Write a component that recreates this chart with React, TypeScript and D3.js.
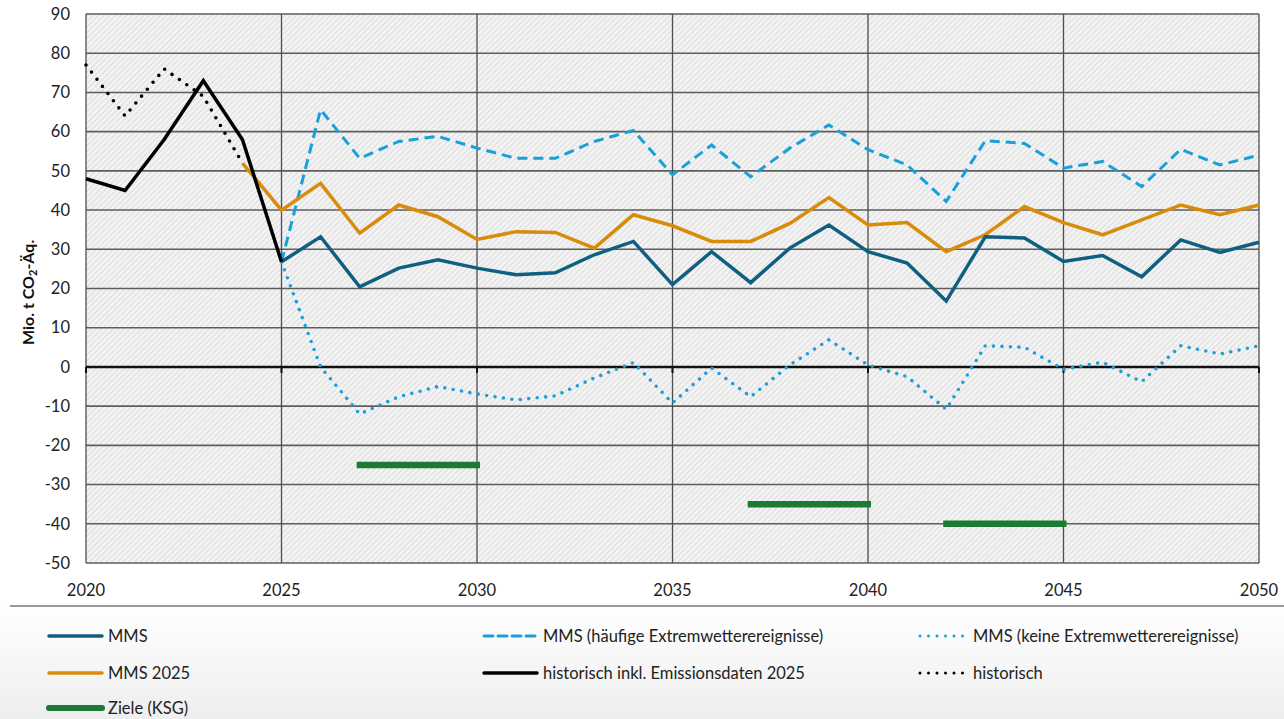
import React, { useEffect, useRef } from 'react';
import * as d3 from 'd3';

// Werte (Mio. t CO2-Äq.)
const histYears = [2020, 2021, 2022, 2023, 2024];
const histValues = [77, 64, 76, 69, 52];

const histInklYears = [2020, 2021, 2022, 2023, 2024, 2025];
const histInklValues = [48, 45, 58, 73, 58, 26.8];

const mms2025Years = d3.range(2024, 2051);
const mms2025Values = [52, 40, 46.8, 34.1, 41.3, 38.3, 32.5, 34.5, 34.3, 30.3, 38.8, 36, 32, 32, 36.6, 43.2, 36.2, 36.8, 29.4, 33.7, 40.9, 36.8, 33.7, 37.5, 41.3, 38.8, 41.3];

const mmsYears = d3.range(2025, 2051);
const mmsValues = [26.8, 33.2, 20.4, 25.2, 27.3, 25.2, 23.5, 24, 28.6, 32, 21, 29.4, 21.5, 30.3, 36.2, 29.4, 26.5, 16.8, 33.2, 32.9, 26.9, 28.4, 23, 32.4, 29.2, 31.8];
const mmsHighValues = [26.8, 65.6, 53.2, 57.5, 58.8, 55.8, 53.2, 53.2, 57.5, 60.3, 49, 56.6, 48.5, 55.8, 61.7, 55.4, 51.5, 42.2, 57.7, 57, 50.7, 52.4, 46, 55.5, 51.5, 54];
const mmsNoneValues = [26.8, 0, -12, -7.6, -5, -6.9, -8.4, -7.4, -2.8, 1.1, -9.2, -0.3, -7.6, 0.5, 6.9, 0.5, -2.5, -10.8, 5.4, 5, -0.6, 1.2, -3.8, 5.4, 3.3, 5.4];

const targetStart = [2027, 2037, 2042];
const targetEnd = [2030, 2040, 2045];
const targetValues = [-25, -35, -40];

const yTicks = d3.range(-50, 91, 10);
const xTicks = [2020, 2025, 2030, 2035, 2040, 2045, 2050];

const colors = {
  mms: '#0f5f80',
  mms2025: '#d98b0c',
  light: '#1a9fd9',
  hist: '#000000',
  target: '#1b7a33',
};

const WIDTH = 1284;
const HEIGHT = 719;
const FONT = 'Lato, "Open Sans", sans-serif';

const App: React.FC = () => {
  const svgRef = useRef<SVGSVGElement>(null);

  useEffect(() => {
    if (!svgRef.current) return;
    const margin = { top: 14, right: 25, bottom: HEIGHT - 563, left: 86 };

    d3.select(svgRef.current).selectAll('*').remove();
    const root = d3.select(svgRef.current)
      .attr('width', WIDTH)
      .attr('height', HEIGHT);

    const defs = root.append('defs');
    const pat = defs.append('pattern')
      .attr('id', 'hatch')
      .attr('patternUnits', 'userSpaceOnUse')
      .attr('width', 4)
      .attr('height', 4)
      .attr('patternTransform', 'rotate(45)');
    pat.append('rect').attr('width', 4).attr('height', 4).attr('fill', '#f3f3f3');
    pat.append('line')
      .attr('x1', 0).attr('y1', 0).attr('x2', 0).attr('y2', 4)
      .attr('stroke', '#d2d2d2').attr('stroke-width', 1.4);

    const grad = defs.append('linearGradient')
      .attr('id', 'legendBg')
      .attr('x1', 0).attr('y1', 0).attr('x2', 0).attr('y2', 1);
    grad.append('stop').attr('offset', '0%').attr('stop-color', '#ffffff');
    grad.append('stop').attr('offset', '100%').attr('stop-color', '#eeeeee');

    root.append('rect').attr('width', WIDTH).attr('height', HEIGHT).attr('fill', '#ffffff');
    root.append('rect')
      .attr('x', 0).attr('y', 606)
      .attr('width', WIDTH).attr('height', HEIGHT - 606)
      .attr('fill', 'url(#legendBg)');

    const x = d3.scaleLinear().domain([2020, 2050]).range([margin.left, WIDTH - margin.right]);
    const y = d3.scaleLinear().domain([-50, 90]).range([HEIGHT - margin.bottom, margin.top]);

    // Plot area with hatch
    root.append('rect')
      .attr('x', x(2020)).attr('y', y(90))
      .attr('width', x(2050) - x(2020)).attr('height', y(-50) - y(90))
      .attr('fill', 'url(#hatch)');

    // Horizontal gridlines
    root.append('g').selectAll('line')
      .data(yTicks)
      .join('line')
      .attr('x1', x(2020)).attr('x2', x(2050))
      .attr('y1', d => y(d)).attr('y2', d => y(d))
      .attr('stroke', '#5e5e5e')
      .attr('stroke-width', 1.6);

    // Vertical gridlines
    root.append('g').selectAll('line')
      .data(xTicks)
      .join('line')
      .attr('x1', d => x(d)).attr('x2', d => x(d))
      .attr('y1', y(90)).attr('y2', y(-50))
      .attr('stroke', '#4e4e4e')
      .attr('stroke-width', 1.3);

    // Zero line with ticks
    root.append('line')
      .attr('x1', x(2020)).attr('x2', x(2050))
      .attr('y1', y(0)).attr('y2', y(0))
      .attr('stroke', '#111').attr('stroke-width', 2.5);
    root.append('g').selectAll('line')
      .data(xTicks)
      .join('line')
      .attr('x1', d => x(d)).attr('x2', d => x(d))
      .attr('y1', y(0)).attr('y2', y(0) + 6)
      .attr('stroke', '#111').attr('stroke-width', 2);

    // Y tick labels
    root.append('g').selectAll('text')
      .data(yTicks)
      .join('text')
      .attr('x', 70)
      .attr('y', d => y(d))
      .attr('dy', '0.35em')
      .attr('text-anchor', 'end')
      .attr('font-family', FONT)
      .attr('font-size', 16.5)
      .attr('fill', '#222')
      .text(d => d);

    // X tick labels
    root.append('g').selectAll('text')
      .data(xTicks)
      .join('text')
      .attr('x', d => x(d))
      .attr('y', 596)
      .attr('text-anchor', 'middle')
      .attr('font-family', FONT)
      .attr('font-size', 16.5)
      .attr('fill', '#222')
      .text(d => d);

    // Y axis title
    root.append('text')
      .attr('transform', `translate(34,${y(19)}) rotate(-90)`)
      .attr('text-anchor', 'middle')
      .attr('font-family', FONT)
      .attr('font-size', 16)
      .attr('font-weight', 'bold')
      .attr('fill', '#111')
      .html('Mio. t CO<tspan font-size="11" dy="3">2</tspan><tspan dy="-3">-Äq.</tspan>');

    type Pt = { year: number; value: number };
    const line = d3.line<Pt>().x(d => x(d.year)).y(d => y(d.value));
    const toPts = (years: number[], values: number[]) => years.map((yr, i) => ({ year: yr, value: values[i] }));

    const drawLine = (pts: Pt[], color: string, width: number, dash?: string, round = false) => {
      root.append('path')
        .datum(pts)
        .attr('fill', 'none')
        .attr('stroke', color)
        .attr('stroke-width', width)
        .attr('stroke-linejoin', 'miter')
        .attr('stroke-linecap', round ? 'round' : 'butt')
        .attr('stroke-dasharray', dash ?? null)
        .attr('d', line);
    };

    drawLine(toPts(mmsYears, mmsHighValues), colors.light, 3, '10,6');
    drawLine(toPts(mmsYears, mmsNoneValues), colors.light, 3.6, '0,8.5', true);
    drawLine(toPts(mms2025Years, mms2025Values), colors.mms2025, 3.5);
    drawLine(toPts(histYears, histValues), colors.hist, 3.6, '0,9', true);
    drawLine(toPts(mmsYears, mmsValues), colors.mms, 3.5);
    drawLine(toPts(histInklYears, histInklValues), colors.hist, 3.5);

    // Targets (KSG)
    root.append('g').selectAll('line')
      .data(targetValues)
      .join('line')
      .attr('x1', (_, i) => x(targetStart[i]) - 3)
      .attr('x2', (_, i) => x(targetEnd[i]) + 3)
      .attr('y1', d => y(d)).attr('y2', d => y(d))
      .attr('stroke', colors.target)
      .attr('stroke-width', 6.5);

    // Separator
    root.append('line')
      .attr('x1', 10).attr('x2', WIDTH)
      .attr('y1', 606).attr('y2', 606)
      .attr('stroke', '#777').attr('stroke-width', 1.5);

    // Legend
    const legendItems = [
      { label: 'MMS', x: 49, y: 636, color: colors.mms, width: 3.5, dash: null as string | null, round: false },
      { label: 'MMS 2025', x: 49, y: 673, color: colors.mms2025, width: 3.5, dash: null, round: false },
      { label: 'Ziele (KSG)', x: 49, y: 708, color: colors.target, width: 6, dash: null, round: false },
      { label: 'MMS (häufige Extremwetterereignisse)', x: 484, y: 636, color: colors.light, width: 3, dash: '9,5', round: false },
      { label: 'historisch inkl. Emissionsdaten 2025', x: 484, y: 673, color: colors.hist, width: 3.5, dash: null, round: false },
      { label: 'MMS (keine Extremwetterereignisse)', x: 918, y: 636, color: colors.light, width: 3, dash: '0,8.5', round: true },
      { label: 'historisch', x: 918, y: 673, color: colors.hist, width: 3, dash: '0,8.5', round: true },
    ];
    const lg = root.append('g').selectAll('g')
      .data(legendItems)
      .join('g');
    lg.append('line')
      .attr('x1', d => d.x + (d.round ? 2 : 0))
      .attr('x2', d => d.x + (d.round ? 48 : 53))
      .attr('y1', d => d.y).attr('y2', d => d.y)
      .attr('stroke', d => d.color)
      .attr('stroke-width', d => d.width)
      .attr('stroke-linecap', 'round')
      .attr('stroke-dasharray', d => d.dash);
    lg.append('text')
      .attr('x', d => d.x + (d.round ? 55 : 59))
      .attr('y', d => d.y)
      .attr('dy', '0.35em')
      .attr('font-family', FONT)
      .attr('font-size', 16.5)
      .attr('fill', '#222')
      .text(d => d.label);
  }, []);

  return (
    <div style={{ position: 'absolute', left: 0, top: 0 }}>
      <svg ref={svgRef} style={{ display: 'block' }} />
    </div>
  );
};

export default App;
